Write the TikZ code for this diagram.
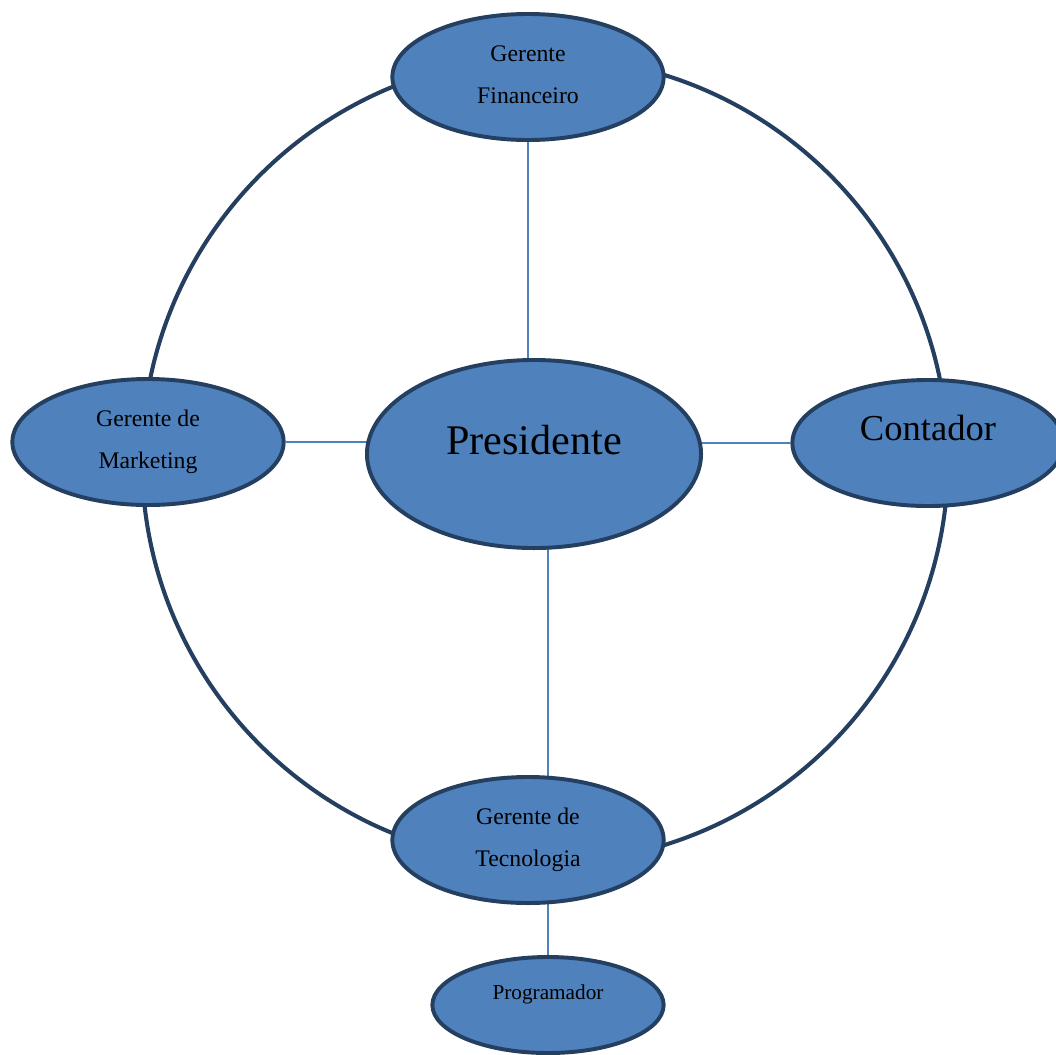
\documentclass[tikz,border=0pt]{standalone}
\usepackage{fontspec}
\setmainfont{Liberation Serif}
\usetikzlibrary{shapes.geometric,calc,backgrounds}
\definecolor{cfill}{HTML}{4F81BD}
\definecolor{cedge}{HTML}{243F60}
\begin{document}
\begin{tikzpicture}[x=0.025cm, y=-0.025cm,
  org/.style={draw=cedge,fill=cfill,ellipse,line width=2.8pt,inner sep=0pt,minimum width=6.78cm,minimum height=3.15cm},
  txt/.style={align=center,font=\fontsize{16.9}{29.8}\selectfont},
  link/.style={draw=cfill,line width=1.3pt}, ring/.style={draw=cedge,line width=2.9pt}]
  \useasboundingbox (0,0) rectangle (1056,1054);
  \node[org](fin) at (528,77){};
  \node[org,minimum width=8.35cm,minimum height=4.7cm](pres) at (534,454){};
  \node[org](mkt) at (148,442){};
  \node[org](cont) at (928,443){};
  \node[org](tec) at (528,840){};
  \node[org,minimum width=5.78cm,minimum height=2.4cm](prog) at (548,1005){};
  \node[txt](finT) at ($(fin)+(0,-2)$){Gerente\\Financeiro};
  \node[font=\fontsize{30}{36}\selectfont](presT) at ($(pres)+(0,-14)$){Presidente};
  \node[txt](mktT) at (mkt){Gerente de\\Marketing};
  \node[font=\fontsize{26}{31}\selectfont](contT) at ($(cont)+(0,-15)$){Contador};
  \node[txt](tecT) at (tec){Gerente de\\Tecnologia};
  \node[font=\fontsize{15.1}{18}\selectfont](progT) at ($(prog)+(0,-11)$){Programador};
  \begin{scope}[on background layer]
    \coordinate (hub) at (545,460);
    \draw[ring] (hub) circle[radius=403];
    \draw[link](fin)--(fin|-pres);
    \draw[link](mkt)--(mkt-|pres);
    \draw[link](cont)--(cont-|pres);
    \draw[link](prog|-pres)--(prog|-tec);
    \draw[link](prog|-tec)--(prog);
  \end{scope}
\end{tikzpicture}
\end{document}
